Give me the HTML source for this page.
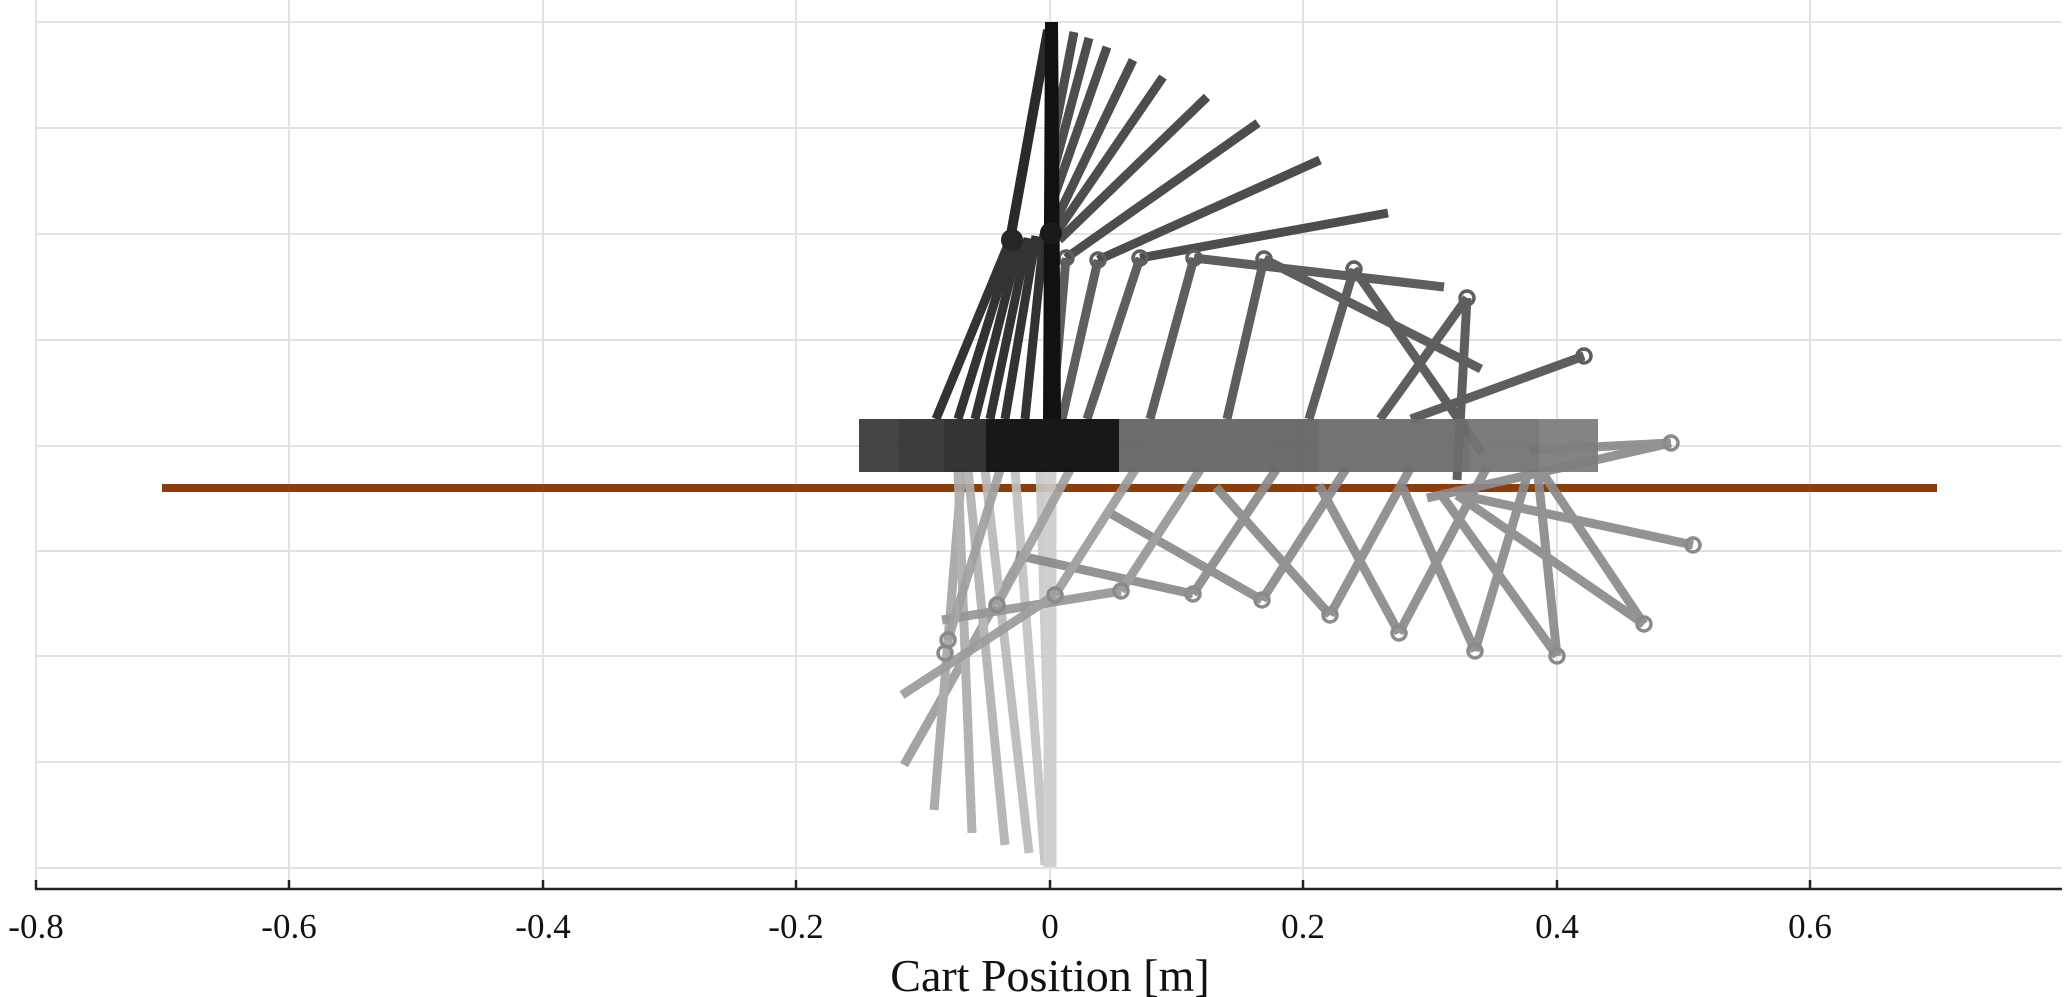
<!DOCTYPE html>
<html><head><meta charset="utf-8"><style>
html,body{margin:0;padding:0;background:#fff;}
svg{display:block;}
text{font-family:"Liberation Serif",serif;fill:#111;}
</style></head><body>
<svg width="2066" height="997" viewBox="0 0 2066 997" xmlns="http://www.w3.org/2000/svg">
<g stroke="#e2e2e2" stroke-width="2">
<line x1="36" y1="0" x2="36" y2="889"/><line x1="289" y1="0" x2="289" y2="889"/><line x1="543" y1="0" x2="543" y2="889"/><line x1="796" y1="0" x2="796" y2="889"/><line x1="1050" y1="0" x2="1050" y2="889"/><line x1="1303" y1="0" x2="1303" y2="889"/><line x1="1557" y1="0" x2="1557" y2="889"/><line x1="1810" y1="0" x2="1810" y2="889"/>
<line x1="36" y1="22" x2="2062" y2="22"/><line x1="36" y1="128" x2="2062" y2="128"/><line x1="36" y1="234" x2="2062" y2="234"/><line x1="36" y1="340" x2="2062" y2="340"/><line x1="36" y1="446" x2="2062" y2="446"/><line x1="36" y1="551" x2="2062" y2="551"/><line x1="36" y1="656" x2="2062" y2="656"/><line x1="36" y1="762" x2="2062" y2="762"/><line x1="36" y1="868" x2="2062" y2="868"/>
</g>
<line x1="162" y1="488" x2="1937" y2="488" stroke="#8b3d0c" stroke-width="8"/>
<g stroke-width="9" stroke-linecap="butt" opacity="0.9">
<line x1="904" y1="765" x2="1020" y2="560" stroke="#9a9a9a"/>
<line x1="934" y1="810" x2="962" y2="470" stroke="#a4a4a4"/>
<line x1="972" y1="833" x2="958" y2="470" stroke="#aaaaaa"/>
<line x1="1005" y1="845" x2="968" y2="470" stroke="#b0b0b0"/>
<line x1="1029" y1="853" x2="985" y2="470" stroke="#b8b8b8"/>
<line x1="1045" y1="865" x2="1015" y2="470" stroke="#c0c0c0"/>
<line x1="1052" y1="867" x2="1040" y2="470" stroke="#c8c8c8"/>
<line x1="1050" y1="867" x2="1050" y2="470" stroke="#cccccc" stroke-width="13"/>
</g>
<g stroke="#8a8a8a" stroke-width="9" opacity="0.92">
<line x1="1671" y1="443" x2="1427" y2="498"/><line x1="1671" y1="443" x2="1530" y2="450"/>
<line x1="1693" y1="545" x2="1460" y2="495"/>
<line x1="1644" y1="624" x2="1457" y2="495"/><line x1="1644" y1="624" x2="1544" y2="475"/>
<line x1="1557" y1="656" x2="1538" y2="475"/><line x1="1557" y1="656" x2="1443" y2="497"/>
<line x1="1475" y1="651" x2="1528" y2="473"/><line x1="1475" y1="651" x2="1403" y2="488"/>
<line x1="1399" y1="633" x2="1487" y2="467"/><line x1="1399" y1="633" x2="1319" y2="485"/>
<line x1="1330" y1="615" x2="1411" y2="467"/><line x1="1330" y1="615" x2="1216" y2="487"/>
<line x1="1262" y1="600" x2="1346" y2="469"/><line x1="1262" y1="600" x2="1108" y2="512"/>
<line x1="1193" y1="594" x2="1276" y2="470"/><line x1="1193" y1="594" x2="1016" y2="555"/>
<line x1="1121" y1="591" x2="1200" y2="470" stroke="#969696"/><line x1="1121" y1="591" x2="942" y2="620" stroke="#969696"/>
<line x1="1055" y1="595" x2="1135" y2="470" stroke="#9c9c9c"/><line x1="1055" y1="595" x2="902" y2="695" stroke="#9c9c9c"/>
<line x1="997" y1="605" x2="1070" y2="470" stroke="#a0a0a0"/>
<line x1="948" y1="640" x2="1000" y2="470" stroke="#a0a0a0"/>
</g>
<g fill="none" stroke="#8a8a8a" stroke-width="3.5">
<circle cx="1671" cy="443" r="7"/><circle cx="1693" cy="545" r="7"/><circle cx="1644" cy="624" r="7"/><circle cx="1557" cy="656" r="7"/><circle cx="1475" cy="651" r="7"/><circle cx="1399" cy="633" r="7"/><circle cx="1330" cy="615" r="7"/><circle cx="1262" cy="600" r="7"/><circle cx="1193" cy="594" r="7"/><circle cx="1121" cy="591" r="7"/><circle cx="1055" cy="595" r="7"/><circle cx="997" cy="605" r="7"/><circle cx="948" cy="640" r="7"/><circle cx="945" cy="653" r="7"/>
</g>
<g stroke="#4d4d4d" stroke-width="9">
<line x1="1053" y1="140" x2="1074" y2="32"/><line x1="1053" y1="173" x2="1089" y2="38"/><line x1="1053" y1="200" x2="1107" y2="47"/><line x1="1056" y1="220" x2="1133" y2="60"/><line x1="1056" y1="233" x2="1163" y2="77"/><line x1="1059" y1="240" x2="1207" y2="97"/><line x1="1066" y1="258" x2="1258" y2="123"/><line x1="1098" y1="260" x2="1320" y2="160"/><line x1="1140" y1="258" x2="1388" y2="213"/>
</g>
<g stroke="#5e5e5e" stroke-width="9">
<line x1="1194" y1="258" x2="1444" y2="287"/><line x1="1264" y1="259" x2="1481" y2="369"/><line x1="1354" y1="269" x2="1482" y2="453"/><line x1="1467" y1="298" x2="1457" y2="480"/><line x1="1584" y1="356" x2="1411" y2="419"/>
<line x1="1052" y1="419" x2="1066" y2="258"/><line x1="1062" y1="419" x2="1098" y2="260"/><line x1="1087" y1="419" x2="1140" y2="258"/><line x1="1150" y1="419" x2="1194" y2="258"/><line x1="1227" y1="419" x2="1264" y2="259"/><line x1="1309" y1="419" x2="1354" y2="269"/><line x1="1380" y1="419" x2="1467" y2="298"/>
</g>
<g fill="none" stroke="#5e5e5e" stroke-width="3.5">
<circle cx="1066" cy="258" r="7"/><circle cx="1098" cy="260" r="7"/><circle cx="1140" cy="258" r="7"/><circle cx="1194" cy="258" r="7"/><circle cx="1264" cy="259" r="7"/><circle cx="1354" cy="269" r="7"/><circle cx="1467" cy="298" r="7"/><circle cx="1584" cy="356" r="7"/>
</g>
<g stroke="#333" stroke-width="9">
<line x1="1010" y1="240" x2="936" y2="419"/><line x1="1014" y1="240" x2="958" y2="419"/><line x1="1020" y1="240" x2="975" y2="419"/><line x1="1028" y1="238" x2="990" y2="419"/><line x1="1036" y1="236" x2="1005" y2="419"/><line x1="1044" y1="234" x2="1025" y2="419"/>
<line x1="1048" y1="30" x2="1010" y2="240" stroke="#2a2a2a" stroke-width="10"/>
</g>
<polygon points="1045,22 1058,22 1061,419 1043,419" fill="#111"/>
<circle cx="1012" cy="240" r="11" fill="#262626"/><circle cx="1051" cy="233" r="11" fill="#1a1a1a"/>
<g opacity="0.95">
<rect x="859" y="419" width="40" height="53" fill="#3a3a3a"/>
<rect x="899" y="419" width="45" height="53" fill="#333"/>
<rect x="944" y="419" width="42" height="53" fill="#2a2a2a"/>
<rect x="986" y="419" width="133" height="53" fill="#0c0c0c"/>
<rect x="1119" y="419" width="200" height="53" fill="#656565"/>
<rect x="1319" y="419" width="150" height="53" fill="#6c6c6c"/>
<rect x="1469" y="419" width="70" height="53" fill="#747474"/>
<rect x="1539" y="419" width="59" height="53" fill="#7e7e7e"/>
</g>
<line x1="35" y1="889" x2="2062" y2="889" stroke="#222" stroke-width="2.5"/>
<g stroke="#222" stroke-width="2.5">
<line x1="36" y1="880" x2="36" y2="889"/><line x1="289" y1="880" x2="289" y2="889"/><line x1="543" y1="880" x2="543" y2="889"/><line x1="796" y1="880" x2="796" y2="889"/><line x1="1050" y1="880" x2="1050" y2="889"/><line x1="1303" y1="880" x2="1303" y2="889"/><line x1="1557" y1="880" x2="1557" y2="889"/><line x1="1810" y1="880" x2="1810" y2="889"/>
</g>
<g font-size="35" text-anchor="middle">
<text x="36" y="938">-0.8</text><text x="289" y="938">-0.6</text><text x="543" y="938">-0.4</text><text x="796" y="938">-0.2</text><text x="1050" y="938">0</text><text x="1303" y="938">0.2</text><text x="1557" y="938">0.4</text><text x="1810" y="938">0.6</text>
</g>
<text x="1050" y="991" font-size="46" text-anchor="middle">Cart Position [m]</text>
</svg>
</body></html>
